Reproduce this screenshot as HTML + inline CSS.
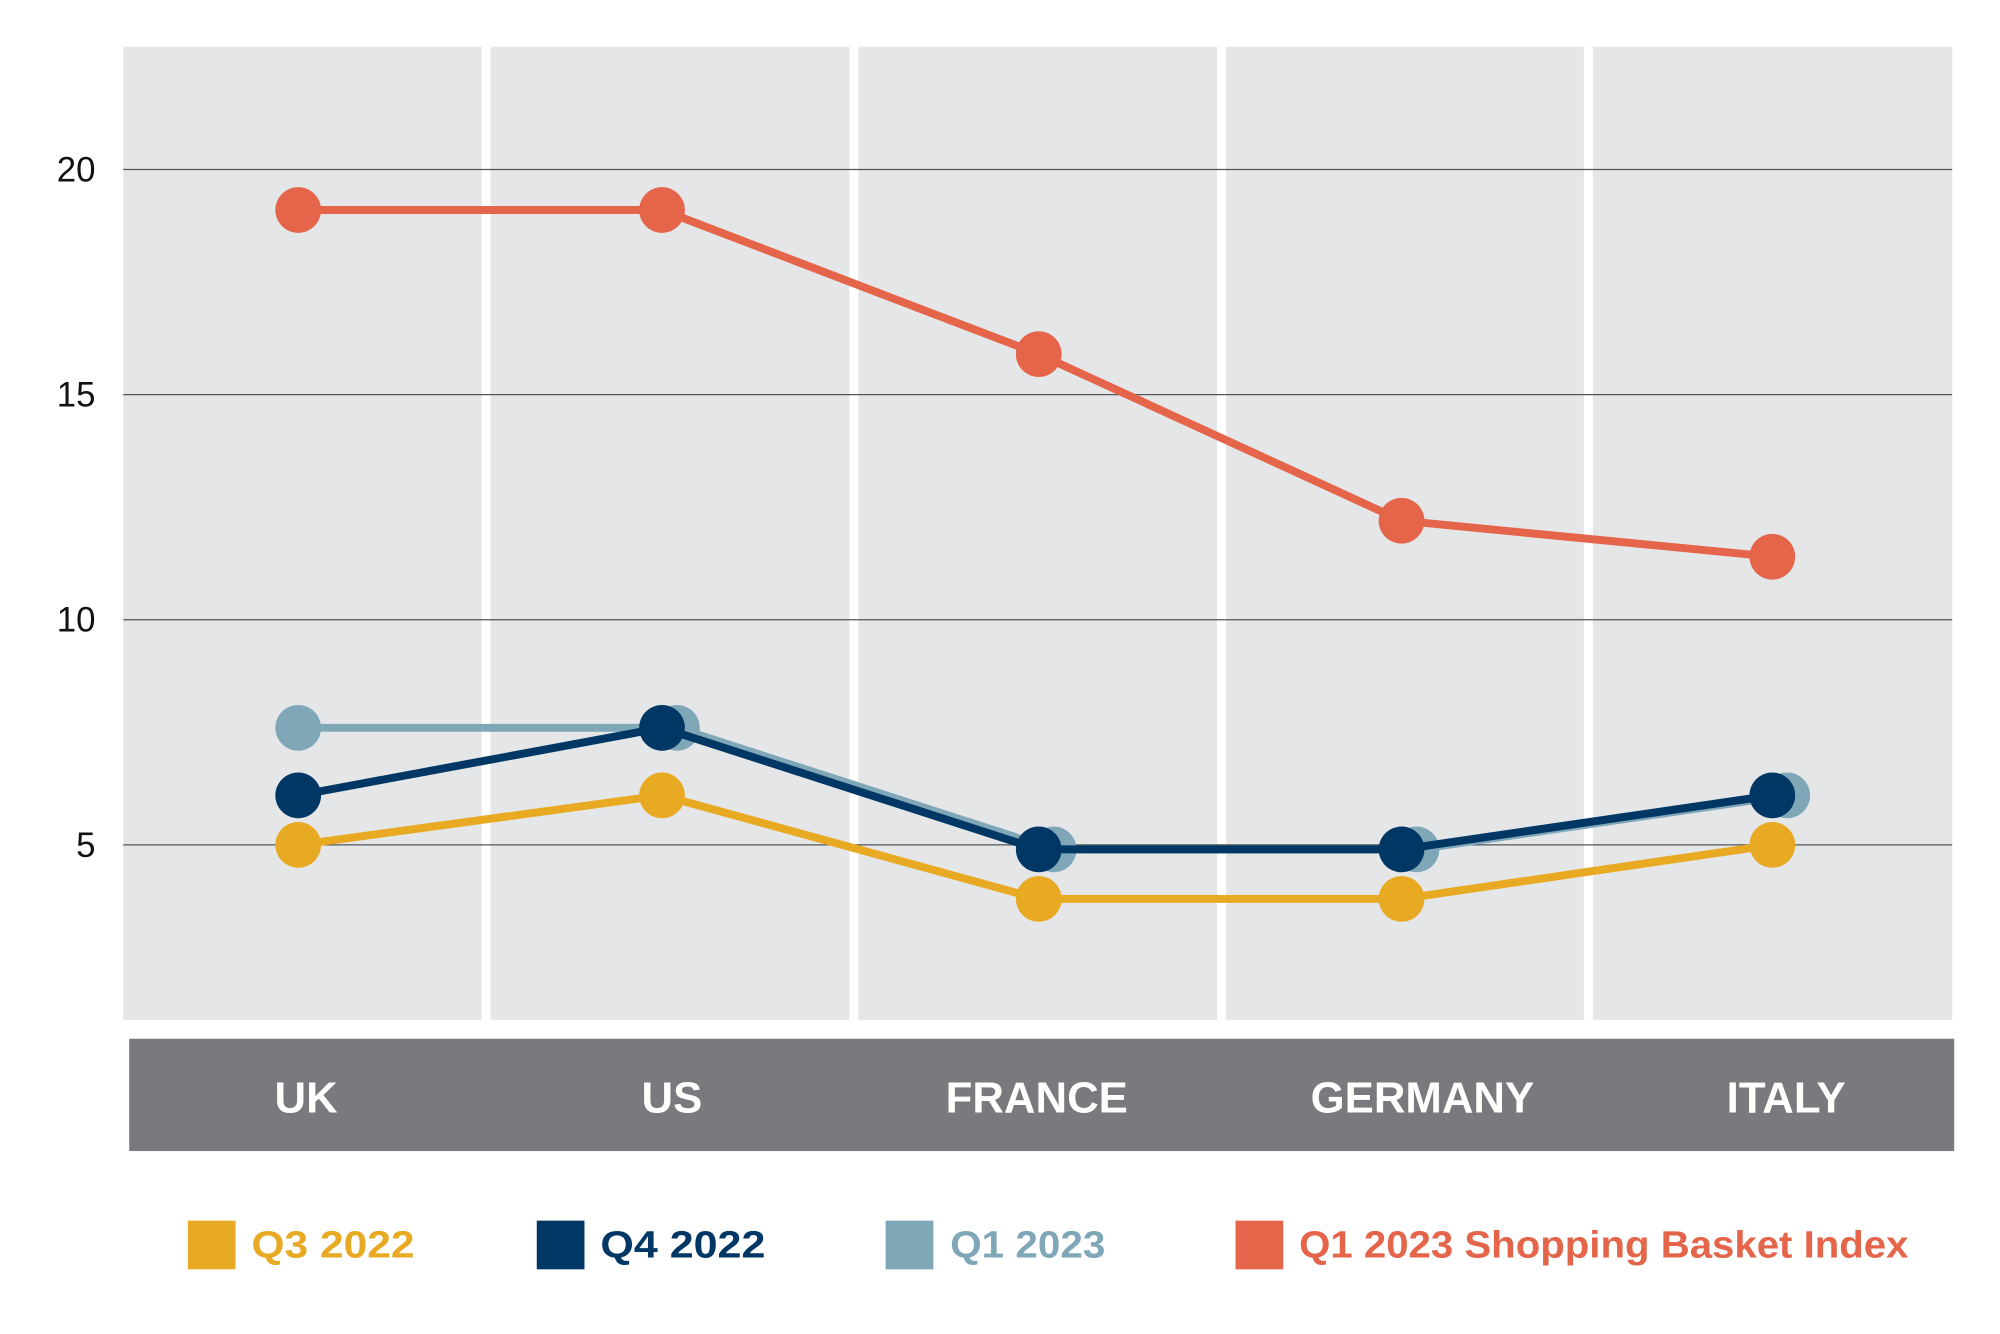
<!DOCTYPE html>
<html><head><meta charset="utf-8"><style>
html,body{margin:0;padding:0;background:#fff;}
svg{display:block;font-family:"Liberation Sans",sans-serif;}
</style></head><body>
<svg id="chart" width="2000" height="1334" viewBox="0 0 2000 1334">
<g transform="scale(0.994)">
<rect x="124" y="47" width="1840" height="979" fill="#e5e6e8"/>
<g id="seps"></g>
<g id="grid"></g>
<rect x="130" y="1045" width="1836" height="113" fill="#797a7e"/>
<g id="xlabels"></g>
<g id="series"></g>
<g id="legend"></g>
</g>
</svg>
<script>
const categories = ["UK","US","FRANCE","GERMANY","ITALY"];
const q3_2022 = [5.0, 6.1, 3.8, 3.8, 5.0];
const q4_2022 = [6.1, 7.6, 4.9, 4.9, 6.1];
const q1_2023 = [7.6, 7.6, 4.9, 4.9, 6.1];
const basketIndex = [19.1, 19.1, 15.9, 12.2, 11.4];
const yTicks = [5, 10, 15, 20];
const legendLabels = ["Q3 2022","Q4 2022","Q1 2023","Q1 2023 Shopping Basket Index"];

const NS = "http://www.w3.org/2000/svg";
function mk(tag, attrs, parent){const e=document.createElementNS(NS,tag);for(const k in attrs)e.setAttribute(k,attrs[k]);parent.appendChild(e);return e;}
const y = v => 850 - (v - 5) * 45.3;
const catX = [300, 666, 1045, 1410, 1783];
const x = i => catX[i];
const labelX = [308, 676, 1043, 1431, 1797];

const seps = document.getElementById('seps');
[489, 859, 1229, 1598].forEach(sx => {
  const r = mk('rect',{x:sx-4.5,y:47,width:9,height:979,fill:'#fff'},seps);
  
  
});

const grid = document.getElementById('grid');
yTicks.forEach(t => {
  const l = mk('line',{x1:124,x2:1964,y1:y(t),y2:y(t),stroke:'#555',"stroke-width":1.3},grid);
  
  
  const tx = mk('text',{x:96,y:y(t)+12,"text-anchor":"end","font-size":35,fill:'#111'},grid);
  tx.textContent = t;
  
  
});

const xl = document.getElementById('xlabels');
categories.forEach((c,i) => {
  const t = mk('text',{x:labelX[i],y:1119,"text-anchor":"middle","font-size":44,"font-weight":"bold",fill:'#fff'},xl);
  t.textContent = c;
  
  
});

const sg = document.getElementById('series');
function drawSeries(vals, color, name, dx){
  const g = mk('g',{},sg);
  
  
  const px = i => x(i) + (i===0?0:dx);
  const pts = vals.map((v,i)=>px(i)+','+y(v)).join(' ');
  const pl = mk('polyline',{points:pts,fill:'none',stroke:color,"stroke-width":8,"stroke-linejoin":"round"},g);
  
  
  vals.forEach((v,i)=>{
    const c = mk('circle',{cx:px(i),cy:y(v),r:23,fill:color},g);
    
    
  });
}
drawSeries(q1_2023,'#7fa7b8','q1-2023-series',15);
drawSeries(q4_2022,'#003764','q4-2022-series',0);
drawSeries(q3_2022,'#e8aa22','q3-2022-series',0);
drawSeries(basketIndex,'#e5654a','basket-index-series',0);

const lg = document.getElementById('legend');
const lColors = ['#e8aa22','#003764','#7fa7b8','#e5654a'];
const lSq = [189, 540, 891, 1243];
const lTxt = [253, 604, 956, 1307];
const lLen = [164, 166, 156, 613];
legendLabels.forEach((lab,i)=>{
  const r = mk('rect',{x:lSq[i],y:1228,width:48,height:49,fill:lColors[i]},lg);
  
  
  const t = mk('text',{x:lTxt[i],y:1265,"font-size":38,"font-weight":"bold",fill:lColors[i],textLength:lLen[i],lengthAdjust:'spacingAndGlyphs'},lg);
  t.textContent = lab;
  
  
});
</script>
</body></html>
